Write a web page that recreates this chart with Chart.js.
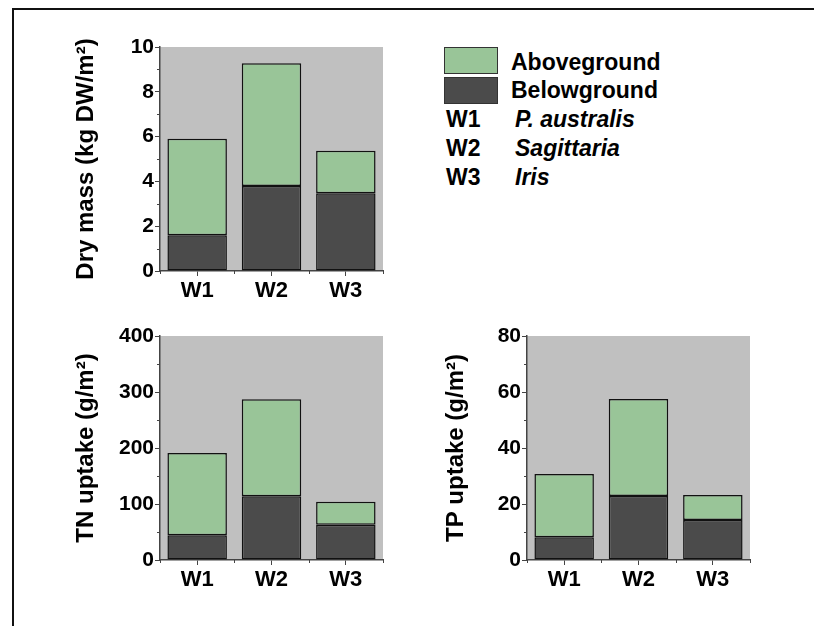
<!DOCTYPE html>
<html>
<head>
<meta charset="utf-8">
<script src="https://cdn.jsdelivr.net/npm/chart.js@4.4.0/dist/chart.umd.min.js"></script>
<style>
  html, body { margin: 0; overflow: hidden; }
  body { background: #fff; width: 814px; height: 626px; position: relative;
         font-family: "Liberation Sans", Arial, sans-serif; font-weight: bold; }
  .hline { position: absolute; left: 12px; top: 8px; width: 802px; height: 2px; background: #111; }
  .vline { position: absolute; left: 12px; top: 8px; width: 2px; height: 618px; background: #111; }
  canvas { position: absolute; }
  .lg { position: absolute; font-size: 23px; line-height: 28px; color: #000; white-space: nowrap; }
  .box { position: absolute; left: 444px; width: 52px; height: 25px; border: 1px solid #333; }
  i { font-style: italic; }
</style>
</head>
<body>
<div class="hline"></div>
<div class="vline"></div>
<canvas id="dry" width="360" height="300" style="left:40px;top:27px"></canvas>
<canvas id="tn" width="360" height="300" style="left:40px;top:316px"></canvas>
<canvas id="tp" width="360" height="300" style="left:407px;top:316px"></canvas>

<div class="box" style="top:47px;background:#99c598"></div>
<div class="box" style="top:77px;background:#4b4b4b"></div>
<div class="lg" style="left:511px;top:48px">Aboveground</div>
<div class="lg" style="left:511px;top:76px">Belowground</div>
<div class="lg" style="left:446px;top:105px">W1</div>
<div class="lg" style="left:446px;top:134px">W2</div>
<div class="lg" style="left:446px;top:163px">W3</div>
<div class="lg" style="left:515px;top:105px"><i>P. australis</i></div>
<div class="lg" style="left:515px;top:134px"><i>Sagittaria</i></div>
<div class="lg" style="left:515px;top:163px"><i>Iris</i></div>

<script>
const categories = ['W1', 'W2', 'W3'];

// dry mass, kg DW/m2
const dryBelow = [1.6, 3.8, 3.47];
const dryAbove = [4.3, 5.47, 1.9];

// TN uptake, g/m2
const tnBelow = [44, 114, 63];
const tnAbove = [147, 173, 41];

// TP uptake, g/m2
const tpBelow = [8.1, 22.9, 14.3];
const tpAbove = [22.6, 34.6, 8.9];

const FONT = '"Liberation Sans", Arial, sans-serif';

// grey plot background + minor ticks
const plotBits = {
  id: 'plotBits',
  beforeDraw(chart) {
    const a = chart.chartArea, ctx = chart.ctx;
    ctx.save();
    ctx.fillStyle = '#c0c0c0';
    ctx.fillRect(a.left, a.top, a.right - a.left, a.bottom - a.top);
    ctx.restore();
  },
  afterDraw(chart) {
    const a = chart.chartArea, ctx = chart.ctx;
    const y = chart.scales.y, x = chart.scales.x;
    const step = chart.options.scales.y.ticks.stepSize;
    ctx.save();
    ctx.strokeStyle = '#444';
    ctx.lineWidth = 1;
    ctx.beginPath();
    for (let v = step / 2; v < y.max; v += step) {
      const py = Math.round(y.getPixelForValue(v)) + 0.5;
      ctx.moveTo(a.left - 3, py);
      ctx.lineTo(a.left, py);
    }
    for (let i = 0; i <= categories.length; i++) {
      const px = Math.round(x.getPixelForValue(i - 0.5)) + 0.5;
      ctx.moveTo(px, a.bottom);
      ctx.lineTo(px, a.bottom + 3);
    }
    ctx.stroke();
    ctx.restore();
  }
};

function makeChart(id, below, above, max, step, title, titlePad) {
  const ctx = document.getElementById(id).getContext('2d');
  return new Chart(ctx, {
    type: 'bar',
    data: {
      labels: categories,
      datasets: [{
        label: 'Belowground',
        data: below,
        backgroundColor: '#4b4b4b',
        borderColor: '#111',
        borderWidth: 1.5,
        borderSkipped: false
      }, {
        label: 'Aboveground',
        data: above,
        backgroundColor: '#99c598',
        borderColor: '#111',
        borderWidth: 1.5,
        borderSkipped: false
      }]
    },
    options: {
      responsive: false,
      animation: false,
      layout: { padding: { top: 20, right: 17, left: 0, bottom: 0 } },
      plugins: { legend: { display: false }, tooltip: { enabled: false } },
      datasets: { bar: { categoryPercentage: 1, barPercentage: 0.8 } },
      scales: {
        x: {
          stacked: true,
          afterFit: (s) => { s.height = 56; },
          grid: { offset: false, drawOnChartArea: false, drawTicks: true, tickLength: 5, color: '#444' },
          border: { color: '#444', width: 1.5 },
          ticks: { color: '#000', padding: 2, maxRotation: 0, autoSkip: false,
                   font: { family: FONT, size: 22, weight: 'bold' } }
        },
        y: {
          stacked: true,
          min: 0,
          max: max,
          afterFit: (s) => { s.width = 120; },
          grid: { drawOnChartArea: false, drawTicks: true, tickLength: 5, color: '#444' },
          border: { color: '#444', width: 1.5 },
          ticks: { stepSize: step, color: '#000', padding: 1,
                   font: { family: FONT, size: 21, weight: 'bold' } },
          title: {
            display: true,
            text: title,
            color: '#000',
            padding: { top: titlePad, bottom: 0 },
            font: { family: FONT, size: 24, weight: 'bold' }
          }
        }
      }
    },
    plugins: [plotBits]
  });
}

makeChart('dry', dryBelow, dryAbove, 10, 2, 'Dry mass (kg DW/m²)', 32);
makeChart('tn', tnBelow, tnAbove, 400, 100, 'TN uptake (g/m²)', 32);
makeChart('tp', tpBelow, tpAbove, 80, 20, 'TP uptake (g/m²)', 35);
</script>
</body>
</html>
